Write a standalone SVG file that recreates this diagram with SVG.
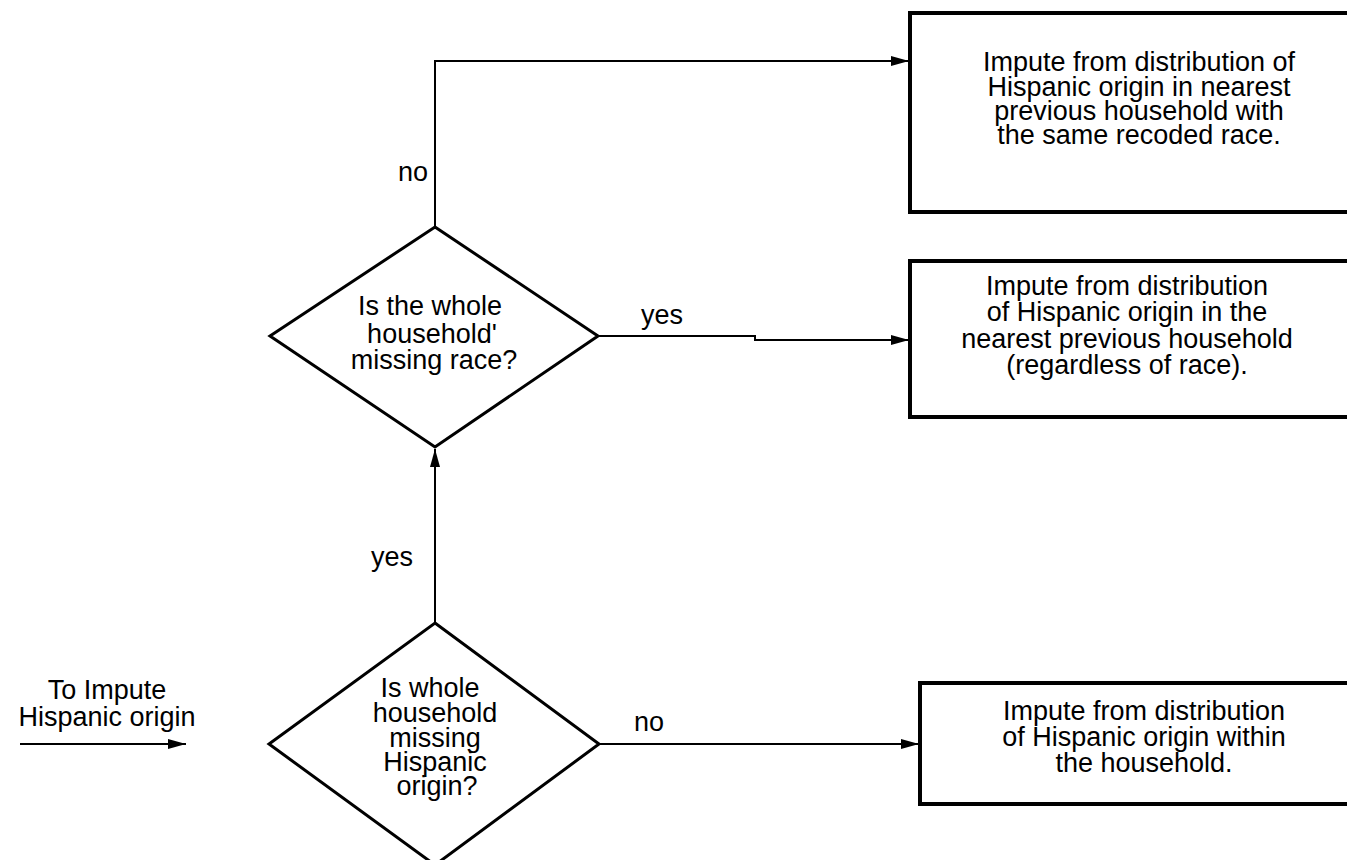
<svg xmlns="http://www.w3.org/2000/svg" width="1347" height="860" viewBox="0 0 1347 860">
  <defs>
    <style>
      .box { fill: #ffffff; stroke: #000000; stroke-width: 4; }
      .dec { fill: #ffffff; stroke: #000000; stroke-width: 3; stroke-linejoin: miter; }
      .wire { fill: none; stroke: #000000; stroke-width: 2; }
      text { font-family: "Liberation Sans", Arial, Helvetica, sans-serif; font-size: 27px; fill: #000000; text-anchor: middle; }
    </style>
    <marker id="arrow" markerUnits="userSpaceOnUse" markerWidth="20" markerHeight="12" refX="18" refY="5" orient="auto">
      <path d="M0,0 L18,5 L0,10 z" fill="#000000"/>
    </marker>
  </defs>
  <rect width="1347" height="860" fill="#ffffff"/>

  <!-- connectors -->
  <g id="connectors">
    <line class="wire" x1="20" y1="744" x2="186" y2="744" marker-end="url(#arrow)"/>
    <line class="wire" x1="435" y1="623" x2="435" y2="449" marker-end="url(#arrow)"/>
    <polyline class="wire" points="435,227 435,61 909,61" marker-end="url(#arrow)"/>
    <polyline class="wire" points="598,336 755,336 755,340 909,340" marker-end="url(#arrow)"/>
    <line class="wire" x1="599" y1="744" x2="919" y2="744" marker-end="url(#arrow)"/>
    <text x="107" y="699">To Impute</text>
    <text x="107" y="726">Hispanic origin</text>
    <text x="413" y="181">no</text>
    <text x="662" y="324">yes</text>
    <text x="392" y="566">yes</text>
    <text x="649" y="731">no</text>
  </g>

  <!-- decision: whole household missing Hispanic origin -->
  <g id="decision-hispanic">
    <polygon class="dec" points="435,623 599,744 435,865 269,744"/>
    <text x="430" y="697">Is whole</text>
    <text x="435" y="722">household</text>
    <text x="435" y="747">missing</text>
    <text x="435" y="771">Hispanic</text>
    <text x="437" y="795">origin?</text>
  </g>

  <!-- decision: whole household missing race -->
  <g id="decision-race">
    <polygon class="dec" points="435,227 598,336 435,447 270,336"/>
    <text x="430" y="315">Is the whole</text>
    <text x="432" y="343">household'</text>
    <text x="434" y="369">missing race?</text>
  </g>

  <!-- impute from same recoded race -->
  <g id="impute-same-race">
    <rect class="box" x="910" y="13" width="470" height="199"/>
    <text x="1139" y="71">Impute from distribution of</text>
    <text x="1139" y="96">Hispanic origin in nearest</text>
    <text x="1139" y="120">previous household with</text>
    <text x="1139" y="144">the same recoded race.</text>
  </g>

  <!-- impute regardless of race -->
  <g id="impute-any-race">
    <rect class="box" x="910" y="261" width="470" height="156"/>
    <text x="1127" y="295">Impute from distribution</text>
    <text x="1127" y="321">of Hispanic origin in the</text>
    <text x="1127" y="348">nearest previous household</text>
    <text x="1127" y="374">(regardless of race).</text>
  </g>

  <!-- impute within household -->
  <g id="impute-within">
    <rect class="box" x="920" y="683" width="470" height="121"/>
    <text x="1144" y="720">Impute from distribution</text>
    <text x="1144" y="746">of Hispanic origin within</text>
    <text x="1144" y="772">the household.</text>
  </g>
</svg>
